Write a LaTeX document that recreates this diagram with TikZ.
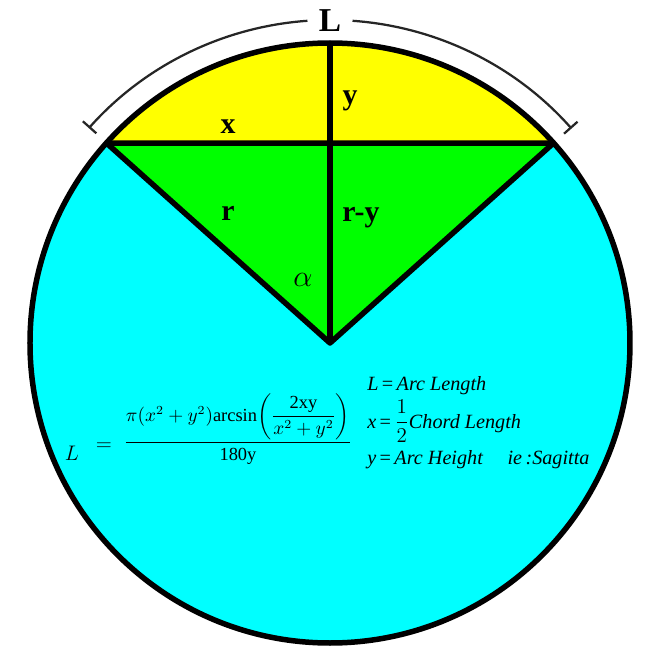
\documentclass[tikz,border=0pt]{standalone}
\usepackage{amsmath}
\usepackage{fontspec}
\setmainfont{Liberation Serif}
\usetikzlibrary{arrows.meta}
\definecolor{aquafill}{RGB}{0,255,255}
\definecolor{limefill}{RGB}{0,255,0}
\definecolor{lemonfill}{RGB}{255,255,0}

\tikzset{
  edge/.style={line width=0.11cm, line join=round},
  span/.style={line width=0.045cm, black!85},
  lbl/.style={font=\bfseries\fontsize{17}{20}\selectfont, inner sep=0pt, anchor=base},
  note/.style={font=\fontsize{11.5}{14}\selectfont, inner sep=0pt, anchor=base west},
}

\begin{document}
\begin{tikzpicture}[x=0.02cm,y=0.02cm]
  \useasboundingbox (-330,-317) rectangle (330,343);
  \pgfmathsetmacro{\R}{300}
  \pgfmathsetmacro{\ca}{asin(2/3)}
  \coordinate (O) at (0,0);
  \coordinate (A) at ({180-\ca}:\R);
  \coordinate (B) at (\ca:\R);
  \coordinate (T) at (90:\R);

  \fill[aquafill] (O) circle (\R);
  \fill[lemonfill] (B) arc (\ca:{180-\ca}:\R) -- cycle;
  \fill[limefill] (O) -- (A) -- (B) -- cycle;
  \draw[edge] (A) -- (O) -- (B) -- cycle;
  \draw[edge] (O) -- (T);
  \draw[edge] (O) circle (\R);

  % arc length span
  \draw[span, {Bar[width=0.36cm]}-] (138.3:323) arc (138.3:94:323);
  \draw[span, -{Bar[width=0.36cm]}] (86:323) arc (86:41.6:323);
  \node[font=\bfseries\fontsize{19}{22}\selectfont, inner sep=0pt] (arclen) at (0,322) {L};

  \node[lbl] (ylbl) at (20,238) {y};
  \node[lbl] (xlbl) at (-102,209) {x};
  \node[lbl] (rlbl) at (-102,122) {r};
  \node[lbl] (rylbl) at (31,121) {r-y};
  \node[font=\fontsize{19}{20}\selectfont, inner sep=0pt, anchor=base] (alpha) at (-27,57) {$\alpha$};

  % formula
  \node[font=\fontsize{12}{15}\selectfont, inner sep=0pt, anchor=base] (Lsym) at (-258,-117) {$L$};
  \node[font=\fontsize{12}{15}\selectfont, inner sep=0pt] (eqsym) at (-226,-104) {$=$};
  \node[font=\fontsize{10.5}{14}\selectfont, inner sep=0pt, anchor=base] (frac) at (-92,-104)
    {$\dfrac{\pi(x^2+y^2)\mathrm{arcsin}\!\left(\dfrac{\mathrm{2xy}}{x^2+y^2}\right)}{\mathrm{180y}}$};

  \node[note] (defL) at (37,-47) {\textit{L}\,=\,\textit{Arc Length}};
  \node[note] (defx) at (37,-85) {\textit{x}\,=\,$\dfrac{1}{2}$\textit{Chord Length}};
  \node[note] (defy) at (37,-121) {\textit{y}\,=\,\textit{Arc Height}\hspace{1.2em}\textit{ie\,:Sagitta}};
\end{tikzpicture}
\end{document}
